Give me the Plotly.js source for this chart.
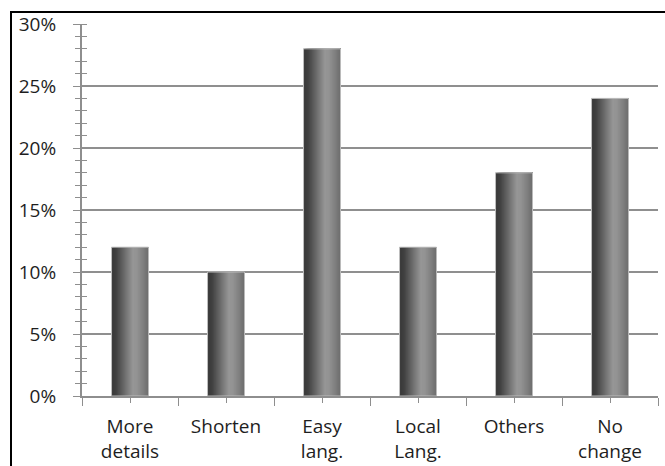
<!DOCTYPE html>
<html>
<head>
<meta charset="utf-8">
<script src="https://cdn.plot.ly/plotly-3.0.1.min.js"></script>
<style>
  html, body { margin: 0; padding: 0; background: #fff; }
  #wrap { position: relative; width: 665px; height: 466px; overflow: hidden; }
  #chart { position: absolute; left: 0; top: 0; width: 665px; height: 466px; }
  #frame { position: absolute; left: 10px; top: 11px; width: 700px; height: 500px;
           border-left: 2px solid #000; border-top: 2px solid #000; pointer-events: none; }
</style>
</head>
<body>
<div id="wrap">
  <div id="chart"></div>
  <div id="frame"></div>
</div>
<script>
// ---- data ----
const categories = ['More<br>details', 'Shorten', 'Easy<br>lang.', 'Local<br>Lang.', 'Others', 'No<br>change'];
const values = [0.12, 0.10, 0.28, 0.12, 0.18, 0.24];
const yTickVals = [0, 0.05, 0.10, 0.15, 0.20, 0.25, 0.30];

// ---- styling: cylinder-like gradient made from overlaid layers ----
const positions = categories.map((_, i) => i);
const BAR_W = 0.385;
const N = 36;
const stops = [[0, 58], [0.12, 64], [0.35, 108], [0.58, 150], [0.68, 148], [0.85, 128], [1, 108]];
function shade(t) {
  for (let k = 1; k < stops.length; k++) {
    if (t <= stops[k][0]) {
      const a = stops[k - 1], b = stops[k];
      const f = (t - a[0]) / (b[0] - a[0]);
      const v = Math.round(a[1] + f * (b[1] - a[1]));
      return 'rgb(' + v + ',' + v + ',' + v + ')';
    }
  }
  return 'rgb(108,108,108)';
}
const traces = [];
const stripW = BAR_W / N;
for (let s = 0; s < N; s++) {
  const t = (s + 0.5) / N;
  // each layer reaches the right edge of the bar, later layers cover earlier ones
  traces.push({
    type: 'bar', x: positions, y: values,
    width: BAR_W - s * stripW,
    offset: -BAR_W / 2 + s * stripW,
    marker: { color: shade(t), line: { width: 0 }, opacity: 1 },
    hoverinfo: 'skip', showlegend: false
  });
}
traces.push({
  type: 'bar', x: positions, y: values, width: BAR_W, offset: -BAR_W / 2,
  marker: { color: 'rgba(0,0,0,0)', line: { color: '#bdbdbd', width: 1 } },
  hoverinfo: 'skip', showlegend: false
});
// helper trace for crossing minor ticks on the y axis
traces.push({ type: 'scatter', x: [0], y: [0], yaxis: 'y2', mode: 'markers',
  marker: { opacity: 0 }, hoverinfo: 'skip', showlegend: false });

const axisGray = '#8e8e8e';
const layout = {
  width: 665, height: 466,
  margin: { l: 82, r: 7, t: 24, b: 70 },
  paper_bgcolor: '#fff', plot_bgcolor: '#fff',
  barmode: 'overlay', showlegend: false,
  font: { family: '"Open Sans", "Liberation Sans", sans-serif', size: 19, color: '#1e1e1e' },
  xaxis: {
    type: 'linear', range: [-0.5, 5.5], fixedrange: true,
    tickvals: positions, ticktext: categories,
    ticks: 'outside', ticklen: 5, tickwidth: 1, tickcolor: axisGray,
    minor: { ticks: 'outside', ticklen: 8, tickwidth: 1, tickcolor: axisGray, tick0: -0.5, dtick: 1, showgrid: false },
    showline: true, linecolor: axisGray, linewidth: 2,
    showgrid: false, zeroline: false, ticklabelstandoff: 7
  },
  yaxis: {
    range: [0, 0.30], fixedrange: true,
    tickvals: yTickVals, tickformat: '.0%',
    ticks: 'outside', ticklen: 7, tickwidth: 1, tickcolor: axisGray,
    minor: { ticks: 'outside', ticklen: 5, tickwidth: 1, tickcolor: axisGray, dtick: 0.01, tick0: 0, showgrid: false },
    showline: true, linecolor: axisGray, linewidth: 2,
    showgrid: true, gridcolor: '#8f8f8f', gridwidth: 2,
    zeroline: false, ticklabelstandoff: 13
  },
  yaxis2: {
    overlaying: 'y', side: 'left', range: [0, 0.30], fixedrange: true,
    showticklabels: false, showgrid: false, zeroline: false, showline: false,
    ticks: '', tickvals: yTickVals,
    minor: { ticks: 'inside', ticklen: 5, tickwidth: 1, tickcolor: axisGray, dtick: 0.01, tick0: 0, showgrid: false }
  }
};
Plotly.newPlot('chart', traces, layout, { staticPlot: true, displayModeBar: false });
</script>
</body>
</html>
